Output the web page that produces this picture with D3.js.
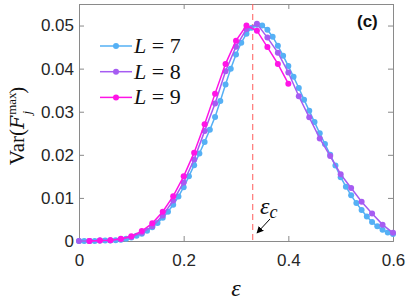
<!DOCTYPE html>
<html>
<head>
<meta charset="utf-8">
<script src="https://cdn.jsdelivr.net/npm/d3@7"></script>
<style>
  body { margin: 0; background: #fff; }
</style>
</head>
<body>
<div class="chart-container"></div>
<script>
// eps values and Var(F_j^max)
var epsL7 = [0, 0.01, 0.02, 0.03, 0.04, 0.05, 0.06, 0.07, 0.08, 0.09,
             0.10, 0.11, 0.12, 0.13, 0.14, 0.15, 0.16, 0.17, 0.18, 0.19,
             0.20, 0.21, 0.22, 0.23, 0.24, 0.25, 0.26, 0.27, 0.28, 0.29,
             0.30, 0.31, 0.32, 0.33, 0.34, 0.35, 0.36, 0.37, 0.38, 0.39,
             0.40, 0.41, 0.42, 0.43, 0.44, 0.45, 0.46, 0.47, 0.48, 0.49,
             0.50, 0.51, 0.52, 0.53, 0.54, 0.55, 0.56, 0.57, 0.58, 0.59, 0.60];
var varL7 = [0, 0, 0, 0, 0.0001, 0.0001, 0.0001, 0.0002, 0.0003, 0.0005,
             0.0008, 0.0012, 0.0017, 0.0024, 0.0032, 0.0042, 0.0054, 0.0068, 0.0084, 0.0103,
             0.0125, 0.0150, 0.0176, 0.0203, 0.0230, 0.0258, 0.0288, 0.0325, 0.0363, 0.0400,
             0.0433, 0.0460, 0.0481, 0.0495, 0.0502, 0.0500, 0.0490, 0.0474, 0.0453, 0.0430,
             0.0406, 0.0381, 0.0355, 0.0328, 0.0302, 0.0276, 0.0250, 0.0225, 0.0200, 0.0175,
             0.0148, 0.0126, 0.0106, 0.0088, 0.0072, 0.0057, 0.0044, 0.0034, 0.0026, 0.0020, 0.0016];

var epsL8 = [0, 0.02, 0.04, 0.06, 0.08, 0.10, 0.12, 0.14, 0.16, 0.18,
             0.20, 0.22, 0.24, 0.26, 0.28, 0.30, 0.32, 0.34, 0.36, 0.38,
             0.40, 0.42, 0.44, 0.46, 0.48, 0.50, 0.52, 0.54, 0.56, 0.58, 0.60];
var varL8 = [0, 0, 0.0001, 0.0002, 0.0004, 0.0009, 0.0019, 0.0034, 0.0059, 0.0094,
             0.0136, 0.0189, 0.0255, 0.0319, 0.0394, 0.0451, 0.0492, 0.0504, 0.0472, 0.0437,
             0.0391, 0.0336, 0.0287, 0.0238, 0.0197, 0.0155, 0.0123, 0.0091, 0.0064, 0.0038, 0.0019];

var epsL9 = [0.02, 0.04, 0.06, 0.08, 0.10, 0.12, 0.14, 0.16, 0.18, 0.20,
             0.22, 0.24, 0.26, 0.28, 0.30, 0.32, 0.34, 0.36, 0.38, 0.40];
var varL9 = [0, 0.0001, 0.0002, 0.0005, 0.0011, 0.0023, 0.0041, 0.0068, 0.0104, 0.0150,
             0.0205, 0.0271, 0.0342, 0.0411, 0.0465, 0.0500, 0.0488, 0.0450, 0.0411, 0.0365];

var seriesNames = ["7", "8", "9"];
var xTicks = [0, 0.2, 0.4, 0.6];
var xTickLabels = ["0", "0.2", "0.4", "0.6"];
var yTicks = [0, 0.01, 0.02, 0.03, 0.04, 0.05];
var yTickLabels = ["0", "0.01", "0.02", "0.03", "0.04", "0.05"];
var epsCritical = 0.332;

var colors = ["#55b0f5", "#a65cf2", "#ff14e6"];

var width = 407, height = 301;
var margin = {top: 4, right: 14, bottom: 60, left: 79};
var sans = "Liberation Sans, Arial, sans-serif";
var serif = "Liberation Serif, Times New Roman, serif";

var svg = d3.select(".chart-container")
        .append("svg")
        .attr("width", width)
        .attr("height", height);

var x = d3.scaleLinear().domain([0, 0.6]).range([margin.left, width - margin.right]);
var y = d3.scaleLinear().domain([0, 0.055]).range([height - margin.bottom, margin.top]);

var axisColor = "#8a8a8a";
var labelColor = "#262626";

// ticks, inside, mirrored on all four sides
var xAxis = d3.axisBottom(x).tickValues(xTicks).tickSize(-5).tickFormat(function (d, i) { return xTickLabels[i]; });
var xAxisTop = d3.axisTop(x).tickValues(xTicks).tickSize(-5).tickFormat("");
var yAxis = d3.axisLeft(y).tickValues(yTicks).tickSize(-5).tickFormat(function (d, i) { return yTickLabels[i]; });
var yAxisRight = d3.axisRight(y).tickValues(yTicks).tickSize(-5).tickFormat("");

function styleAxis(g) {
    g.select(".domain").attr("stroke", axisColor);
    g.selectAll(".tick line").attr("stroke", axisColor);
    g.selectAll(".tick text")
            .attr("fill", labelColor)
            .style("font-size", "17px")
            .style("font-family", sans);
}

svg.append("g")
        .attr("transform", "translate(0," + (height - margin.bottom) + ")")
        .call(xAxis)
        .call(styleAxis)
        .selectAll(".tick text").attr("dy", "1.15em").attr("y", 5);
svg.append("g")
        .attr("transform", "translate(0," + margin.top + ")")
        .call(xAxisTop).call(styleAxis);
svg.append("g")
        .attr("transform", "translate(" + margin.left + ",0)")
        .call(yAxis)
        .call(styleAxis)
        .selectAll(".tick text").attr("x", -5);
svg.append("g")
        .attr("transform", "translate(" + (width - margin.right) + ",0)")
        .call(yAxisRight).call(styleAxis);

// critical point dashed line
svg.append("line")
        .attr("x1", x(epsCritical)).attr("x2", x(epsCritical))
        .attr("y1", y.range()[1]).attr("y2", y.range()[0])
        .attr("stroke", "#ff5c5c")
        .attr("stroke-width", 1)
        .attr("stroke-dasharray", "6,4");

var series = [
    {name: seriesNames[0], eps: epsL7, v: varL7, color: colors[0]},
    {name: seriesNames[1], eps: epsL8, v: varL8, color: colors[1]},
    {name: seriesNames[2], eps: epsL9, v: varL9, color: colors[2]}
];

var line = d3.line()
        .x(function (d) { return x(d[0]); })
        .y(function (d) { return y(d[1]); });

series.forEach(function (s) {
    var pts = d3.zip(s.eps, s.v);
    var g = svg.append("g").attr("class", "series");
    g.append("path")
            .datum(pts)
            .attr("d", line)
            .attr("fill", "none")
            .attr("stroke", s.color)
            .attr("stroke-width", 1.5);
    g.selectAll("circle")
            .data(pts)
            .enter()
            .append("circle")
            .attr("cx", function (d) { return x(d[0]); })
            .attr("cy", function (d) { return y(d[1]); })
            .attr("r", 3)
            .attr("fill", s.color);
});

// legend
var legend = svg.append("g").attr("transform", "translate(100,46)");
series.forEach(function (s, i) {
    var row = legend.append("g").attr("transform", "translate(0," + (i * 25.7) + ")");
    row.append("line")
            .attr("x1", 0).attr("x2", 32)
            .attr("stroke", s.color).attr("stroke-width", 1.5);
    row.append("circle").attr("cx", 16).attr("r", 3).attr("fill", s.color);
    var t = row.append("text")
            .attr("x", 34).attr("y", 7)
            .style("font-family", serif)
            .style("font-size", "22px")
            .attr("fill", "#111");
    t.append("tspan").style("font-style", "italic").text("L");
    t.append("tspan").text(" = " + s.name);
});

// panel label
svg.append("text")
        .attr("x", 357).attr("y", 27)
        .style("font-family", sans)
        .style("font-size", "17px")
        .style("font-weight", "bold")
        .attr("fill", "#111")
        .text("(c)");

// eps_c annotation with arrow
svg.append("defs").append("marker")
        .attr("id", "arrowhead")
        .attr("viewBox", "0 0 10 10")
        .attr("refX", 9).attr("refY", 5)
        .attr("markerWidth", 7).attr("markerHeight", 7)
        .attr("orient", "auto")
        .append("path")
        .attr("d", "M0,0 L10,5 L0,10 z")
        .attr("fill", "#000");

svg.append("line")
        .attr("x1", 270).attr("y1", 219)
        .attr("x2", 257).attr("y2", 233)
        .attr("stroke", "#000").attr("stroke-width", 1)
        .attr("marker-end", "url(#arrowhead)");

var ec = svg.append("text")
        .attr("x", 260).attr("y", 214)
        .style("font-family", serif)
        .style("font-size", "24px")
        .style("font-style", "italic")
        .attr("fill", "#111");
ec.append("tspan").text("ε");
ec.append("tspan").attr("dy", 4).style("font-size", "18px").text("c");

// axis titles
svg.append("text")
        .attr("x", x(0.3)).attr("y", 296)
        .attr("text-anchor", "middle")
        .style("font-family", serif)
        .style("font-size", "24px")
        .style("font-style", "italic")
        .attr("fill", "#111")
        .text("ε");

var yl = svg.append("text")
        .attr("transform", "translate(24,126) rotate(-90)")
        .attr("text-anchor", "middle")
        .style("font-family", serif)
        .style("font-size", "21px")
        .attr("fill", "#111");
yl.append("tspan").text("Var(");
yl.append("tspan").style("font-style", "italic").style("font-family", "DejaVu Serif, serif").style("font-size", "19px").text("F");
yl.append("tspan").style("font-size", "13px").attr("dy", -8).attr("dx", 1).text("max");
yl.append("tspan").style("font-size", "13px").style("font-style", "italic").attr("dx", -22).attr("dy", 15).text("j");
yl.append("tspan").attr("dx", 17).attr("dy", -7).text(")");
</script>
</body>
</html>
